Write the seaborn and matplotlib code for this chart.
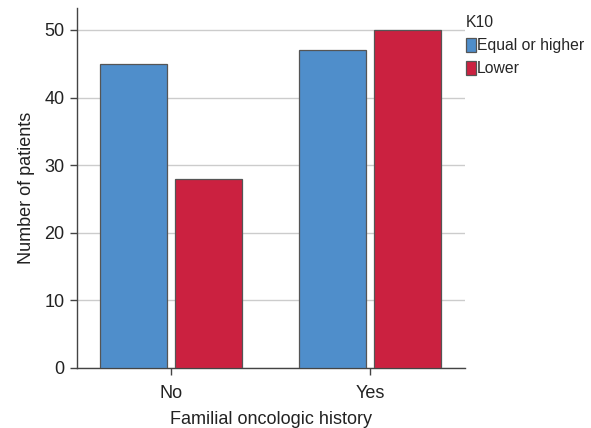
import numpy as np
import pandas as pd
import seaborn as sns
from matplotlib import pyplot as plt

plt.close('all')

# %% Data
history = ['No', 'No', 'Yes', 'Yes']
k10 = ['Equal or higher', 'Lower', 'Equal or higher', 'Lower']
patients = [45, 28, 47, 50]

dfData = pd.DataFrame({'History': history, 'K10': k10, 'Patients': patients})

PalDict = {'Equal or higher': '#4F8ECB', 'Lower': '#CB2140'}

# %% Plot
sns.set_style('white')
plt.rcParams['font.family'] = ['Liberation Sans', 'DejaVu Sans']

fig = plt.figure(figsize=(5.91, 4.28), dpi=100)
ax = fig.add_axes([77 / 591, (428 - 368) / 428, (465 - 77) / 591, (368 - 8) / 428])

sns.barplot(data=dfData, x='History', y='Patients', hue='K10',
            palette=PalDict, saturation=1, width=0.748, gap=0.1,
            edgecolor='#555555', linewidth=0.9, ax=ax, zorder=3)

ax.set_ylim(0, 53.25)
ax.set_xlim(-0.472, 1.477)
ax.set_yticks([0, 10, 20, 30, 40, 50])
ax.yaxis.grid(True, color='#cccccc', linewidth=1, zorder=0)
ax.set_axisbelow(True)

for s in ['top', 'right']:
    ax.spines[s].set_visible(False)
for s in ['left', 'bottom']:
    ax.spines[s].set_color('#444444')
    ax.spines[s].set_linewidth(1)

ax.tick_params(axis='both', which='major', labelsize=13, colors='#444444',
               labelcolor='#222222', length=5, width=1, direction='out',
               left=True, bottom=True, pad=4)
ax.tick_params(axis='x', pad=7)

ax.set_ylabel('Number of patients', fontsize=13, color='#222222', labelpad=7)
ax.set_xlabel('Familial oncologic history', fontsize=13, color='#222222', labelpad=7)

leg = ax.legend(title='K10', loc='upper left', bbox_to_anchor=(0.995, 0.99),
                frameon=False, fontsize=11.3, title_fontsize=11.3,
                handlelength=0.6, handleheight=1.0, handletextpad=0.1,
                labelspacing=0.45, borderaxespad=0.0, borderpad=0.2)
leg._legend_box.align = 'left'
leg._legend_box.sep = 6

fig.savefig('out.png', dpi=100)
